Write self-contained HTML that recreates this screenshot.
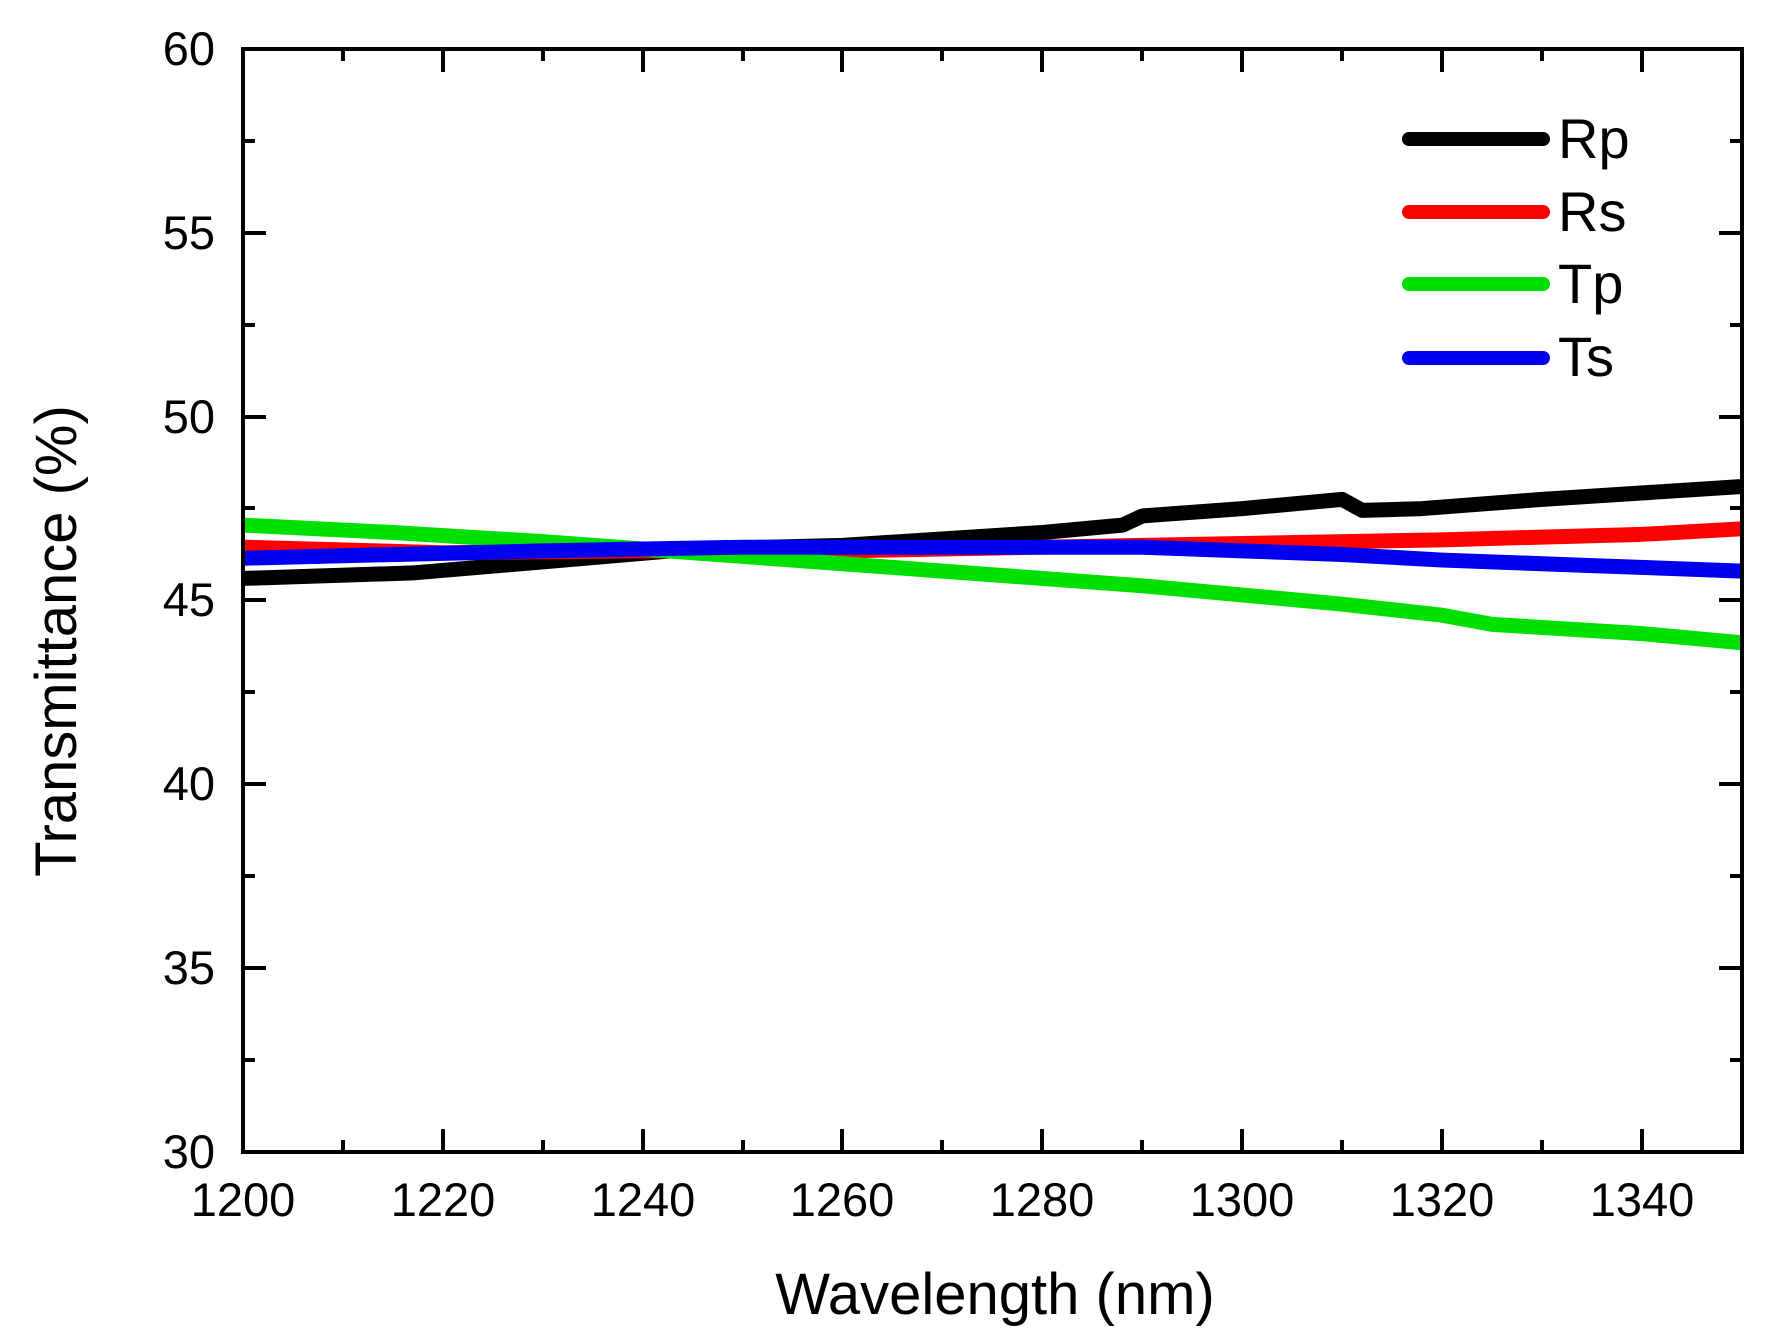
<!DOCTYPE html>
<html><head><meta charset="utf-8"><style>
html,body{margin:0;padding:0;background:#fff;}
svg{display:block;font-family:"Liberation Sans",Arial,sans-serif;}
</style></head><body>
<svg width="1773" height="1338" viewBox="0 0 1773 1338" xmlns="http://www.w3.org/2000/svg">
<rect width="1773" height="1338" fill="#fff"/>
<g fill="none" stroke-linejoin="round" stroke-linecap="butt" stroke-width="15">
<g transform="translate(243,1152) scale(9.9933,-36.7667) translate(-1200,-30)">
<polyline vector-effect="non-scaling-stroke" stroke="#000" points="1200,45.6 1217,45.75 1230,46.05 1245,46.4 1260,46.5 1280,46.85 1288,47.05 1290,47.3 1300,47.5 1310,47.75 1312,47.45 1318,47.5 1330,47.75 1350,48.1"/>
<polyline vector-effect="non-scaling-stroke" stroke="#ff0000" points="1200,46.45 1220,46.3 1240,46.35 1260,46.35 1280,46.45 1300,46.55 1320,46.65 1340,46.8 1350,46.95"/>
<polyline vector-effect="non-scaling-stroke" stroke="#00e000" points="1200,47.05 1215,46.85 1230,46.6 1250,46.2 1270,45.8 1290,45.4 1310,44.9 1320,44.6 1325,44.35 1340,44.1 1350,43.85"/>
<polyline vector-effect="non-scaling-stroke" stroke="#0000f0" points="1200,46.15 1230,46.35 1250,46.45 1270,46.45 1290,46.45 1300,46.35 1310,46.25 1320,46.1 1335,45.95 1350,45.8"/>
</g>
</g>
<rect x="243" y="49" width="1499" height="1103" fill="none" stroke="#000" stroke-width="4"/>
<g stroke="#000" stroke-width="4">
<path d="M243,1152v-23M443,1152v-23M643,1152v-23M842,1152v-23M1042,1152v-23M1242,1152v-23M1442,1152v-23M1642,1152v-23
M343,1152v-12M543,1152v-12M743,1152v-12M942,1152v-12M1142,1152v-12M1342,1152v-12M1542,1152v-12M1742,1152v-12
M243,49v23M443,49v23M643,49v23M842,49v23M1042,49v23M1242,49v23M1442,49v23M1642,49v23
M343,49v12M543,49v12M743,49v12M942,49v12M1142,49v12M1342,49v12M1542,49v12"/>
<path d="M243,1152h23M243,968h23M243,784h23M243,600h23M243,417h23M243,233h23M243,49h23
M243,1060h12M243,876h12M243,692h12M243,508h12M243,325h12M243,141h12
M1742,968h-23M1742,784h-23M1742,600h-23M1742,417h-23M1742,233h-23
M1742,1060h-12M1742,876h-12M1742,692h-12M1742,508h-12M1742,325h-12M1742,141h-12"/>
</g>
<g font-size="47" fill="#000" text-anchor="end">
<text x="215" y="1168">30</text>
<text x="215" y="984">35</text>
<text x="215" y="800">40</text>
<text x="215" y="616">45</text>
<text x="215" y="433">50</text>
<text x="215" y="249">55</text>
<text x="215" y="65">60</text>
</g>
<g font-size="47" fill="#000" text-anchor="middle">
<text x="243" y="1216">1200</text>
<text x="443" y="1216">1220</text>
<text x="643" y="1216">1240</text>
<text x="842" y="1216">1260</text>
<text x="1042" y="1216">1280</text>
<text x="1242" y="1216">1300</text>
<text x="1442" y="1216">1320</text>
<text x="1642" y="1216">1340</text>
</g>
<text x="995" y="1314" font-size="58" text-anchor="middle" fill="#000">Wavelength (nm)</text>
<text transform="translate(76,641) rotate(-90)" font-size="58" text-anchor="middle" fill="#000">Transmittance (%)</text>
<g stroke-width="14" stroke-linecap="round">
<line x1="1409" y1="139" x2="1543" y2="139" stroke="#000"/>
<line x1="1409" y1="212" x2="1543" y2="212" stroke="#ff0000"/>
<line x1="1409" y1="284" x2="1543" y2="284" stroke="#00e000"/>
<line x1="1409" y1="358" x2="1543" y2="358" stroke="#0000f0"/>
</g>
<g font-size="56" fill="#000">
<text x="1558" y="158">Rp</text>
<text x="1558" y="231">Rs</text>
<text x="1558" y="303">Tp</text>
<text x="1558" y="376">Ts</text>
</g>
</svg>
</body></html>
